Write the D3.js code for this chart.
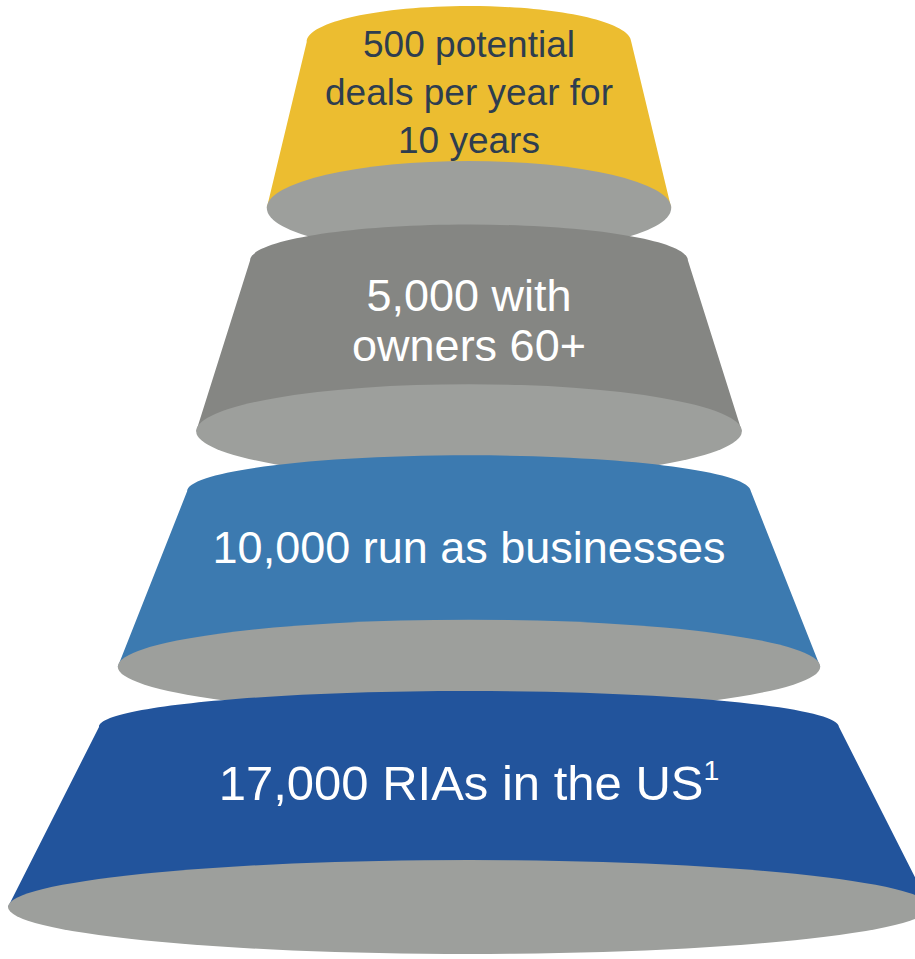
<!DOCTYPE html>
<html>
<head>
<meta charset="utf-8">
<script src="https://cdn.jsdelivr.net/npm/d3@7"></script>
<style>
  html, body { margin: 0; padding: 0; background: #ffffff; }
  svg { display: block; }
  text { font-family: "Liberation Sans", Arial, Helvetica, sans-serif; }
</style>
</head>
<body>
<div id="chart"></div>
<script>
// Funnel stages, narrowest at the top
const stageValues = [500, 5000, 10000, 17000];
const stageLines = [
  ["500 potential", "deals per year for", "10 years"],
  ["5,000 with", "owners 60+"],
  ["10,000 run as businesses"],
  ["17,000 RIAs in the US"]
];
const stageNotes = ["", "", "", "1"];

// Styling
const bodyColors = ["#ECBD30", "#858683", "#3C7AB0", "#22549C"];
const rimColor = "#9D9F9C";
const textColors = ["#2E3D4F", "#ffffff", "#ffffff", "#ffffff"];
const fontSizes = [37, 45, 45, 49];
const lineHeights = [48, 50, 50, 50];
const textShift = [-2, 6, -1, -3];

const W = 915, H = 959;
const cx = 469;
const n = stageValues.length;

const svg = d3.select("#chart").append("svg")
  .attr("width", W).attr("height", H);

// Vertical placement of each frustum (top rim centre) and its height
const yTop = d3.scalePow().exponent(1.04).domain([0, n - 1]).range([42, 727]);
const bodyH = d3.scaleLinear().domain([0, n - 1]).range([166, 180]);
// Top-rim half width grows with the stage count; the base flares out
const rScale = d3.scaleLinear().domain([0, d3.max(stageValues)]).range([156, 370]);
const flare = 1.246;
const ryTop = 36, ryBot = 47;
const K = 0.5523; // bezier constant for quarter ellipse

const tiers = stageValues.map((v, i) => {
  const yT = yTop(i);
  const yB = yT + bodyH(i);
  const rT = rScale(v);
  const rB = rT * flare;
  return { v, i, yT, yB, rT, rB };
});

const g = svg.selectAll("g.tier").data(tiers).join("g").attr("class", "tier");

// Frustum body: elliptical top rim, straight slanted sides
g.append("path")
  .attr("d", d => {
    const p = d3.path();
    p.moveTo(cx - d.rT, d.yT);
    p.bezierCurveTo(cx - d.rT, d.yT - ryTop * K, cx - d.rT * K, d.yT - ryTop, cx, d.yT - ryTop);
    p.bezierCurveTo(cx + d.rT * K, d.yT - ryTop, cx + d.rT, d.yT - ryTop * K, cx + d.rT, d.yT);
    p.lineTo(cx + d.rB, d.yB);
    p.lineTo(cx - d.rB, d.yB);
    p.closePath();
    return p.toString();
  })
  .attr("fill", d => bodyColors[d.i]);

// Grey base ellipse
g.append("ellipse")
  .attr("cx", cx)
  .attr("cy", d => d.yB)
  .attr("rx", d => d.rB)
  .attr("ry", ryBot)
  .attr("fill", rimColor);

// Labels, centred on the visible face of each frustum
g.each(function(d) {
  const lines = stageLines[d.i];
  const fs = fontSizes[d.i];
  const lh = lineHeights[d.i];
  const mid = (d.yT + d.yB - ryBot) / 2 - 8 + textShift[d.i];
  const cap = fs * 0.716;
  lines.forEach((line, k) => {
    const base = mid + (k - (lines.length - 1) / 2) * lh + cap / 2;
    const t = d3.select(this).append("text")
      .attr("x", cx)
      .attr("y", base)
      .attr("text-anchor", "middle")
      .attr("font-size", fs)
      .attr("fill", textColors[d.i])
      .text(line);
    if (k === lines.length - 1 && stageNotes[d.i]) {
      t.append("tspan")
        .attr("font-size", fs * 0.58)
        .attr("dy", -fs * 0.4)
        .text(stageNotes[d.i]);
    }
  });
});
</script>
</body>
</html>
